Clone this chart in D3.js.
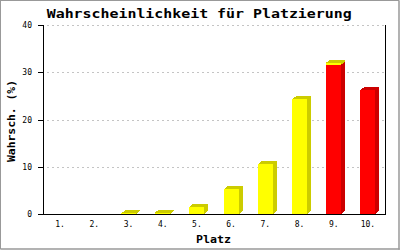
<!DOCTYPE html>
<html><head><meta charset="utf-8">
<script src="https://cdn.jsdelivr.net/npm/d3@7"></script>
<style>body{margin:0;background:#fff}svg{display:block}</style>
</head><body>
<script>
const categories = ["1.","2.","3.","4.","5.","6.","7.","8.","9.","10."];
const redValues    = [0,0,0,0,0,0,0,0,31.6,26.2];
const yellowValues = [0,0,0.12,0.3,1.5,5.3,10.6,24.3,0.4,0];
const yTicks = [0,10,20,30,40];
const title = "Wahrscheinlichkeit für Platzierung";
const xTitle = "Platz";
const yTitle = "Wahrsch. (%)";

const W=400,H=250;
const svg=d3.select("body").append("svg").attr("width",W).attr("height",H);
svg.append("rect").attr("x",0.5).attr("y",0.5).attr("width",W-1.5).attr("height",H-1.5)
  .attr("fill","#fff").attr("stroke","#999").attr("stroke-width",1);
svg.append("line").attr("x1",399).attr("x2",399).attr("y1",1).attr("y2",250).attr("stroke","#999");
svg.append("line").attr("x1",1).attr("x2",400).attr("y1",249).attr("y2",249).attr("stroke","#999");

const L=43,R=385,T=25,B=214;
const x=d3.scaleBand().domain(categories).range([L,R]).padding(0);
const y=d3.scaleLinear().domain([0,40]).range([B,T]);

// grid
svg.append("g").attr("shape-rendering","crispEdges").selectAll("line").data(yTicks.filter(d=>d>0)).join("line")
  .attr("x1",L+4).attr("x2",R).attr("y1",d=>Math.round(y(d))+0.5).attr("y2",d=>Math.round(y(d))+0.5)
  .attr("stroke","#c4c4c4").attr("stroke-dasharray","2,3");

// bars
const bw=15,dx=4,dy=3;
const series=[{vals:redValues,front:"#ff0000",dark:"#cc0000"},{vals:yellowValues,front:"#ffff00",dark:"#cccc00"}];
const gb=svg.append("g").attr("shape-rendering","crispEdges");
categories.forEach((c,i)=>{
  let base=0;
  series.forEach(s=>{
    const v=s.vals[i];
    if(v<=0) return;
    const x0=Math.round(x(c)+x.bandwidth()/2-bw/2);
    const y0=y(base), y1=y(base+v);
    gb.append("polygon").attr("points",[[x0+bw,y1],[x0+bw+dx,y1-dy],[x0+bw+dx,y0-dy],[x0+bw,y0]].join(" ")).attr("fill",s.dark);
    gb.append("polygon").attr("points",[[x0,y1],[x0+dx,y1-dy],[x0+bw+dx,y1-dy],[x0+bw,y1]].join(" ")).attr("fill",s.dark);
    gb.append("rect").attr("x",x0).attr("y",y1).attr("width",bw).attr("height",y0-y1).attr("fill",s.front);
    base+=v;
  });
});

// axes
const ax=svg.append("g").attr("shape-rendering","crispEdges");
ax.append("line").attr("x1",L+0.5).attr("x2",L+0.5).attr("y1",T).attr("y2",B+0.5).attr("stroke","#000");
ax.append("line").attr("x1",R+0.5).attr("x2",R+0.5).attr("y1",T).attr("y2",B+0.5).attr("stroke","#000");
ax.append("line").attr("x1",L).attr("x2",R+1).attr("y1",B+0.5).attr("y2",B+0.5).attr("stroke","#000");
ax.selectAll(".yt").data(yTicks).join("line").attr("x1",L-5).attr("x2",L)
  .attr("y1",d=>Math.round(y(d))+0.5).attr("y2",d=>Math.round(y(d))+0.5).attr("stroke","#000");

const mono="'DejaVu Sans Mono', monospace";
svg.append("g").selectAll("text").data(yTicks).join("text")
  .attr("x",32).attr("y",d=>y(d)+3).attr("text-anchor","end")
  .attr("font-family",mono).attr("font-size",8).text(d=>d);
svg.append("g").selectAll("text").data(categories).join("text")
  .attr("x",d=>x(d)+x.bandwidth()/2).attr("y",227).attr("text-anchor","middle")
  .attr("font-family",mono).attr("font-size",8).text(d=>d);

svg.append("text").attr("x",46.7).attr("y",18).attr("font-family",mono).attr("font-weight","bold")
  .attr("font-size",13).attr("textLength",305).attr("lengthAdjust","spacingAndGlyphs").text(title);
svg.append("text").attr("x",196).attr("y",243).attr("font-family",mono).attr("font-weight","bold")
  .attr("font-size",11).attr("textLength",35).attr("lengthAdjust","spacingAndGlyphs").text(xTitle);
svg.append("text").attr("transform","translate(15,121) rotate(-90)").attr("text-anchor","middle")
  .attr("font-family",mono).attr("font-weight","bold")
  .attr("font-size",11).attr("textLength",82).attr("lengthAdjust","spacingAndGlyphs").text(yTitle);
</script>
</body></html>
